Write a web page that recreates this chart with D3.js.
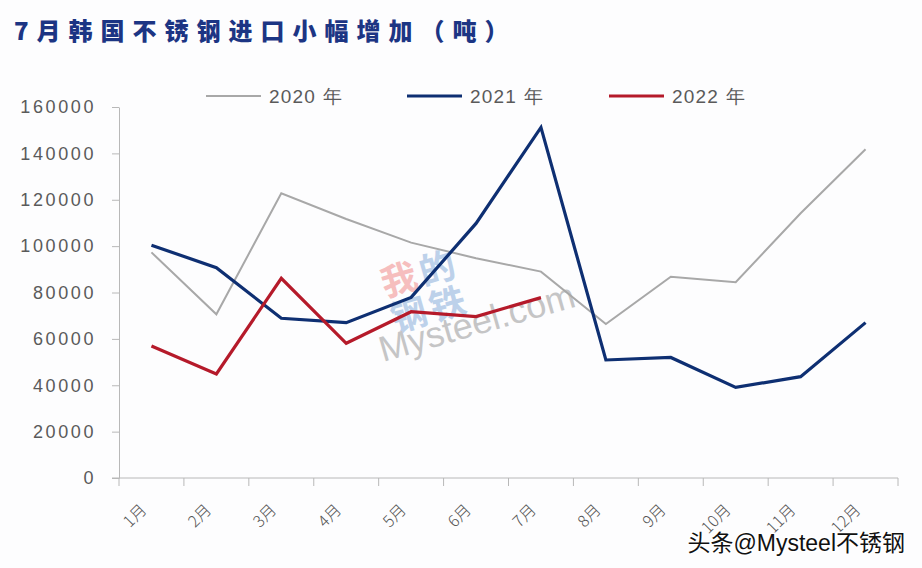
<!DOCTYPE html>
<html>
<head>
<meta charset="utf-8">
<script src="https://cdn.jsdelivr.net/npm/d3@7"></script>
<style>
  html, body { margin: 0; padding: 0; background: #fdfdfe; }
  svg { display: block; }
</style>
</head>
<body>
<svg id="chart" width="922" height="568"></svg>
<script>
const months = ["1月","2月","3月","4月","5月","6月","7月","8月","9月","10月","11月","12月"];
const v2020 = [97300, 70600, 122800, 111700, 101500, 94800, 89000, 66400, 86800, 84400, 114200, 141800];
const v2021 = [100400, 90700, 68900, 67000, 77900, 109800, 151200, 50900, 52000, 39100, 43700, 67000];
const v2022 = [56900, 44900, 86100, 58100, 71700, 69600, 77800];
const yTicks = [0, 20000, 40000, 60000, 80000, 100000, 120000, 140000, 160000];
const seriesNames = ["2020 年", "2021 年", "2022 年"];
const seriesColors = ["#a8a8a8", "#0e2f72", "#b51a2a"];
const seriesWidths = [2, 3.2, 3.2];

const svg = d3.select("#chart");
const x = d3.scaleBand().domain(months).range([119, 898]);
const y = d3.scaleLinear().domain([0, 160000]).range([478, 107]);

// title
svg.append("text")
  .attr("x", 14).attr("y", 40)
  .attr("font-family", "Noto Sans CJK SC")
  .attr("font-weight", 900)
  .attr("font-size", 24)
  .attr("letter-spacing", 8)
  .attr("fill", "#1c3584")
  .text("7月韩国不锈钢进口小幅增加（吨）");

// watermark in the middle
const wm = svg.append("g").attr("transform", "translate(383,362) rotate(-16)").attr("opacity", 0.5);
const cells = [["我","#f08080"],["的","#7ea6d8"],["钢","#7ea6d8"],["铁","#7ea6d8"]];
cells.forEach((c, i) => {
  wm.append("text")
    .attr("x", 20 + (i % 2) * 40).attr("y", -62 + Math.floor(i / 2) * 37)
    .attr("font-family", "Noto Sans CJK SC").attr("font-weight", 700)
    .attr("font-size", 36).attr("fill", c[1]).text(c[0]);
});
wm.append("text").attr("x", 0).attr("y", 0)
  .attr("font-family", "Liberation Sans").attr("font-size", 36)
  .attr("fill", "#8f8f8f").text("Mysteel.com");

// y axis
const yAxis = d3.axisLeft(y).tickValues(yTicks).tickFormat(d3.format("d"))
  .tickSize(7).tickPadding(16).tickSizeOuter(0);
const gy = svg.append("g").attr("transform", "translate(119,0)").call(yAxis);
gy.select(".domain").attr("stroke", "#b8b8b8");
gy.selectAll(".tick line").attr("stroke", "#b8b8b8");
gy.selectAll(".tick text")
  .attr("font-family", "Liberation Sans").attr("font-size", 18)
  .attr("letter-spacing", 2.6).attr("fill", "#5a5a5a");

// x axis
const gx = svg.append("g").attr("transform", "translate(0,478)");
gx.append("line").attr("x1", 112).attr("x2", 898).attr("y1", 0).attr("y2", 0).attr("stroke", "#b8b8b8");
const bounds = months.map(m => x(m)).concat([x.range()[1]]);
gx.selectAll("line.tk").data(bounds).enter().append("line")
  .attr("class", "tk")
  .attr("x1", d => d).attr("x2", d => d).attr("y1", 0).attr("y2", 8)
  .attr("stroke", "#b8b8b8");
gx.selectAll("text.lbl").data(months).enter().append("text")
  .attr("class", "lbl")
  .attr("transform", d => `translate(${x(d) + x.bandwidth() / 2 - 4},${33}) rotate(-45)`)
  .attr("text-anchor", "end")
  .attr("font-family", "Noto Sans CJK SC").attr("font-weight", 300)
  .attr("font-size", 16).attr("fill", "#555")
  .text(d => d);

// lines
const line = d3.line()
  .x((d, i) => x(months[i]) + x.bandwidth() / 2)
  .y(d => y(d));
[v2020, v2021, v2022].forEach((vals, k) => {
  svg.append("path").datum(vals)
    .attr("d", line)
    .attr("fill", "none")
    .attr("stroke", seriesColors[k])
    .attr("stroke-width", seriesWidths[k])
    .attr("stroke-linejoin", "miter");
});

// legend
const legX = [206, 407, 609];
seriesNames.forEach((n, k) => {
  svg.append("line")
    .attr("x1", legX[k]).attr("x2", legX[k] + 55)
    .attr("y1", 96).attr("y2", 96)
    .attr("stroke", seriesColors[k]).attr("stroke-width", seriesWidths[k]);
  svg.append("text")
    .attr("x", legX[k] + 63).attr("y", 103)
    .attr("font-family", "Liberation Sans").attr("font-size", 19)
    .attr("letter-spacing", 1.2).attr("fill", "#5a5a5a")
    .text(n);
});

// bottom-right source watermark
svg.append("text")
  .attr("x", 905).attr("y", 551)
  .attr("text-anchor", "end")
  .attr("font-family", "Liberation Sans, Noto Sans CJK SC")
  .attr("font-size", 23)
  .attr("fill", "#111")
  .attr("stroke", "#fff").attr("stroke-width", 3).attr("paint-order", "stroke")
  .text("头条@Mysteel不锈钢");
</script>
</body>
</html>
